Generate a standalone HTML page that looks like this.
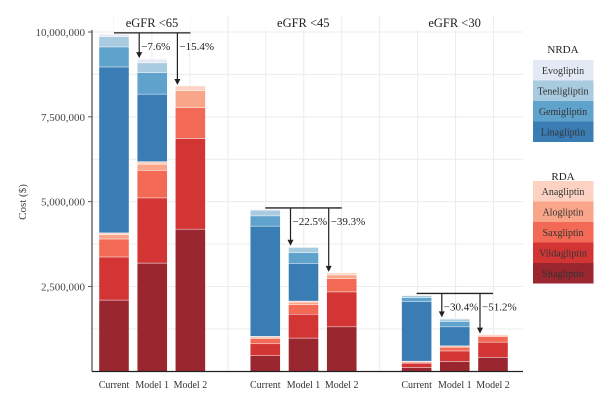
<!DOCTYPE html>
<html><head><meta charset="utf-8"><style>
body{margin:0;background:#fff}
svg{font-family:"Liberation Serif",serif;display:block}
</style></head><body>
<svg id="c" width="612" height="406"></svg>
<script>
const groups=["eGFR <65","eGFR <45","eGFR <30"];
const scenarios=["Current","Model 1","Model 2"];
const redNames=["Sitagliptin","Vildagliptin","Saxgliptin","Alogliptin","Anagliptin"];
const blueNames=["Linagliptin","Gemigliptin","Teneligliptin","Evogliptin"];
// values in millions, per bar (group-major order)
const redValues=[
 [2.1,1.27,0.53,0.13,0.05],[3.19,1.92,0.81,0.18,0.08],[4.19,2.67,0.91,0.5,0.14],
 [0.46,0.35,0.15,0.05,0.02],[0.98,0.70,0.28,0.08,0.03],[1.31,1.03,0.39,0.11,0.06],
 [0.11,0.13,0.03,0.02,0.01],[0.29,0.31,0.11,0.03,0.01],[0.41,0.45,0.16,0.04,0.02]];
const blueValues=[
 [4.89,0.59,0.30,0.07],[1.99,0.63,0.29,0.11],[0,0,0,0],
 [3.25,0.30,0.17,0.02],[1.11,0.32,0.15,0.02],[0,0,0,0],
 [1.75,0.12,0.06,0.02],[0.56,0.16,0.07,0.02],[0,0,0,0]];
const pctLabels=[["−7.6%","−15.4%"],["−22.5%","−39.3%"],["−30.4%","−51.2%"]];
const yTicks=[2500000,5000000,7500000,10000000];
const yTickLabels=["2,500,000","5,000,000","7,500,000","10,000,000"];

const redCols=["#9a2630","#d33535","#f26a55","#f9a58a","#fcd3c3"];
const blueCols=["#3a7db5","#5fa2cc","#a8cbe0","#e3eaf5"];
const svg=document.getElementById('c');const NS="http://www.w3.org/2000/svg";
function el(t,a,p){const e=document.createElementNS(NS,t);for(const k in a)e.setAttribute(k,a[k]);(p||svg).appendChild(e);return e;}
const y0=371.3,pxPerM=33.93;
const y=v=>y0-v/1e6*pxPerM;
const yM=v=>y0-v*pxPerM;
const barW=30;
const barX=(g,s)=>99+g*151.3+s*38.2;
for(let i=1;i<=8;i++){const yy=yM(i*1.25);if(yy<16)continue;
 let g=el('line',{x1:92,x2:523,y1:yy,y2:yy,stroke:'#ececec','stroke-width':1});
 }
for(let x=114;x<523;x+=37.95){let g=el('line',{x1:x,x2:x,y1:16,y2:371,stroke:'#ececec','stroke-width':1});
 }
groups.forEach((t,g)=>{const cx=152+g*151.3;
 el('rect',{x:cx-38,y:14,width:76,height:16,fill:'#fff'});
 const e=el('text',{x:cx,y:27,'text-anchor':'middle','font-size':12.5,fill:'#222'});e.textContent=t;
 });
let i=0;
for(let g=0;g<3;g++)for(let s=0;s<3;s++,i++){
 const x=barX(g,s);let acc=0;
 redValues[i].forEach((v,k)=>{if(v<=0)return;const r=el('rect',{x:x,y:yM(acc+v),width:barW,height:v*pxPerM,fill:redCols[k],stroke:'#fff','stroke-width':0.4});
  acc+=v;});
 blueValues[i].forEach((v,k)=>{if(v<=0)return;const r=el('rect',{x:x,y:yM(acc+v),width:barW,height:v*pxPerM,fill:blueCols[k],stroke:'#fff','stroke-width':0.4});
  acc+=v;});
 const t=el('text',{x:x+barW/2,y:388,'text-anchor':'middle','font-size':10,fill:'#333'});t.textContent=scenarios[s];
 
}
const tot=i=>redValues[i].reduce((a,b)=>a+b,0)+blueValues[i].reduce((a,b)=>a+b,0);
for(let g=0;g<3;g++){
 const top=yM(tot(g*3))-1.5;const xl=barX(g,0)+15,xr=barX(g,2)+15;
 const l=el('line',{x1:xl,x2:xr,y1:top,y2:top,stroke:'#222','stroke-width':1.3});
 
 for(let s=1;s<3;s++){const ax=barX(g,s)+2;const ty=yM(tot(g*3+s))-1;
  const a=el('line',{x1:ax,x2:ax,y1:top,y2:ty-5,stroke:'#222','stroke-width':1.2});
  
  el('polygon',{points:`${ax-3},${ty-6} ${ax+3},${ty-6} ${ax},${ty}`,fill:'#222'});
  const t=el('text',{x:ax+2,y:top+17,'font-size':11,fill:'#222'});t.textContent=pctLabels[g][s-1];
  }
}
let ax=el('line',{x1:92,x2:92,y1:30,y2:371.5,stroke:'#555','stroke-width':1.3});

ax=el('line',{x1:92,x2:523,y1:371.5,y2:371.5,stroke:'#222','stroke-width':1.3});

yTicks.forEach((v,k)=>{el('line',{x1:88,x2:92,y1:y(v),y2:y(v),stroke:'#555'});
 const t=el('text',{x:85,y:y(v)+4,'text-anchor':'end','font-size':11,fill:'#444'});t.textContent=yTickLabels[k];
 });
const yt=el('text',{x:26,y:202,'text-anchor':'middle','font-size':11,fill:'#444',transform:'rotate(-90 26 202)'});yt.textContent='Cost ($)';

function legend(title,ty,names,cols,startY){
 const t=el('text',{x:563,y:ty,'text-anchor':'middle','font-size':11,fill:'#222'});t.textContent=title;
 
 names.forEach((n,k)=>{const yy=startY+k*20.5;
  const r=el('rect',{x:533,y:yy,width:60.5,height:20.5,fill:cols[k]});
  
  const tx=el('text',{x:563,y:yy+14,'text-anchor':'middle','font-size':10,fill:'#333'});tx.textContent=n;
  });
}
legend('NRDA',53,["Evogliptin","Teneligliptin","Gemigliptin","Linagliptin"],["#e3eaf5","#a8cbe0","#5fa2cc","#3a7db5"],60);
legend('RDA',180,["Anagliptin","Alogliptin","Saxgliptin","Vildagliptin","Sitagliptin"],["#fcd3c3","#f9a58a","#f26a55","#d33535","#9a2630"],181);
</script>
</body></html>
